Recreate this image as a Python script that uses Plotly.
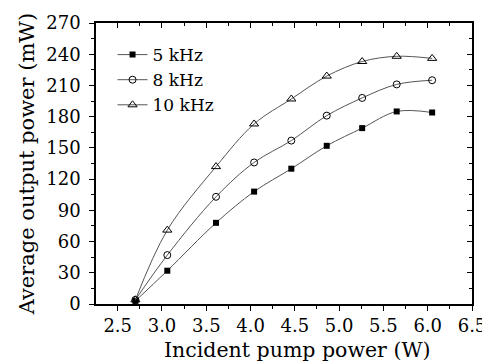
import plotly.graph_objects as go

pump = [2.70, 3.06, 3.61, 4.04, 4.46, 4.86, 5.26, 5.65, 6.05]
p5k = [3, 32, 78, 108, 130, 152, 169, 185, 184]
p8k = [4, 47, 103, 136, 157, 181, 198, 211, 215]
p10k = [4, 71, 132, 173, 197, 219, 233, 238, 236]
names = ["5 kHz", "8 kHz", "10 kHz"]
x_ticks = [2.5, 3.0, 3.5, 4.0, 4.5, 5.0, 5.5, 6.0, 6.5]
y_ticks = [0, 30, 60, 90, 120, 150, 180, 210, 240, 270]
x_title = "Incident pump power (W)"
y_title = "Average output power (mW)"

FONT = "DejaVu Serif"
LINE = "#555555"
XR = [2.255, 6.5]
YR = [0, 270]

fig = go.Figure()
series = [
    (p5k, names[0], dict(symbol="square", size=6, color="black")),
    (p8k, names[1], dict(symbol="circle-open", size=7, color="black", line=dict(width=1))),
    (p10k, names[2], dict(symbol="triangle-up-open", size=8, color="black", line=dict(width=1))),
]
for ys, nm, mk in series:
    fig.add_trace(go.Scatter(
        x=pump, y=ys, name=nm, mode="lines+markers",
        line=dict(color=LINE, width=1, shape="spline", smoothing=1.0),
        marker=mk,
    ))

# invisible trace so the mirrored (top/right) axes are drawn
fig.add_trace(go.Scatter(x=[pump[0]], y=[p5k[0]], xaxis="x2", yaxis="y2", mode="markers",
                         marker=dict(opacity=0), showlegend=False, hoverinfo="skip"))

axfont = dict(family=FONT, size=18, color="black")
common = dict(showline=True, linecolor="black", linewidth=1.5, showgrid=False,
              zeroline=False, automargin=False)
fig.update_layout(
    width=482, height=354,
    margin=dict(l=88, r=18, t=15, b=58),
    paper_bgcolor="white", plot_bgcolor="white",
    font=dict(family=FONT, size=18, color="black"),
    showlegend=True,
    legend=dict(x=0.044, y=0.95, xanchor="left", yanchor="top",
                bgcolor="rgba(0,0,0,0)", font=dict(family=FONT, size=17),
                tracegroupgap=0, itemwidth=30),
    xaxis=dict(
        range=XR, tickvals=x_ticks, ticktext=[f"{v:.1f}" for v in x_ticks],
        ticks="outside", ticklen=5, tickwidth=1, tickcolor="black",
        minor=dict(ticks="outside", ticklen=3, dtick=0.25, tick0=2.25, tickcolor="black"),
        tickfont=axfont, **common,
    ),
    yaxis=dict(
        range=YR, tickvals=y_ticks,
        ticks="outside", ticklen=5, tickwidth=1, tickcolor="black",
        minor=dict(ticks="outside", ticklen=3, dtick=15, tickcolor="black"),
        tickfont=axfont, ticklabelstandoff=5, **common,
    ),
    xaxis2=dict(
        overlaying="x", side="top", range=XR, tickvals=x_ticks,
        showticklabels=False, ticks="inside", ticklen=5, tickcolor="black",
        minor=dict(ticks="inside", ticklen=3, dtick=0.25, tick0=2.25, tickcolor="black"),
        **common,
    ),
    yaxis2=dict(
        overlaying="y", side="right", range=YR, tickvals=y_ticks,
        showticklabels=False, ticks="inside", ticklen=5, tickcolor="black",
        minor=dict(ticks="inside", ticklen=3, dtick=15, tickcolor="black"),
        **common,
    ),
    annotations=[
        dict(text=x_title, xref="paper", yref="paper", x=0.535, y=0, yshift=-46,
             xanchor="center", yanchor="middle", showarrow=False,
             font=dict(family=FONT, size=20.5, color="black")),
        dict(text=y_title, xref="paper", yref="paper", x=0, y=0.497, xshift=-69,
             xanchor="center", yanchor="middle", textangle=-90, showarrow=False,
             font=dict(family=FONT, size=21, color="black")),
    ],
)

fig.write_html("out.html")
